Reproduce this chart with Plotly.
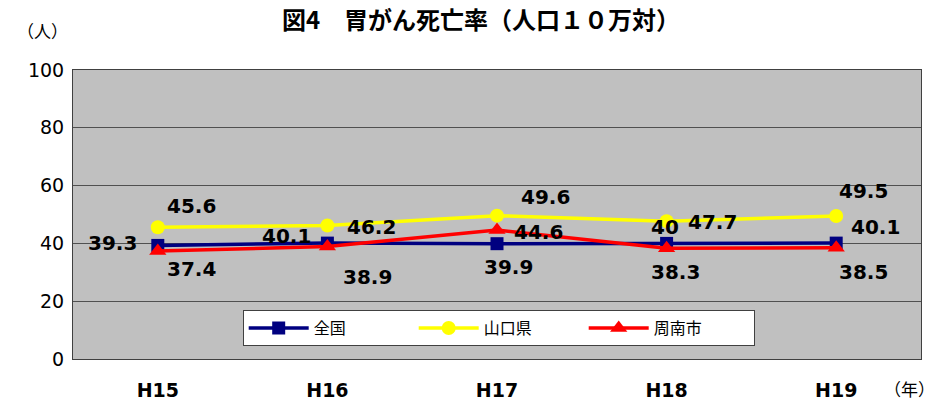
import plotly.graph_objects as go

years = ["H15", "H16", "H17", "H18", "H19"]
zenkoku = [39.3, 40.1, 39.9, 40.0, 40.1]
yamaguchi = [45.6, 46.2, 49.6, 47.7, 49.5]
shunan = [37.4, 38.9, 44.6, 38.3, 38.5]
zenkoku_txt = ["39.3", "40.1", "39.9", "40", "40.1"]
yamaguchi_txt = ["45.6", "46.2", "49.6", "47.7", "49.5"]
shunan_txt = ["37.4", "38.9", "44.6", "38.3", "38.5"]

# label offsets (px) relative to points
zen_off = [(-45, 2), (-41, 7), (11, -23), (-2, 16), (39, 16)]
yam_off = [(34, 21), (44, -2), (48, 19), (46, -1), (27, 25)]
shu_off = [(34, -18), (40, -30), (41, -2), (9, -24), (27, -24)]

JP = "Noto Sans CJK JP"
NUM = "DejaVu Sans"

W, H = 936, 401
L, T, PW, PH = 73, 70, 848, 289

fig = go.Figure()
fig.add_trace(go.Scatter(x=years, y=zenkoku, name="全国", mode="lines+markers",
                         line=dict(color="#000080", width=3.5),
                         marker=dict(symbol="square", size=13, color="#000080")))
fig.add_trace(go.Scatter(x=years, y=yamaguchi, name="山口県", mode="lines+markers",
                         line=dict(color="#FFFF00", width=3.5),
                         marker=dict(symbol="circle", size=14, color="#FFFF00")))
fig.add_trace(go.Scatter(x=years, y=shunan, name="周南市", mode="lines+markers",
                         line=dict(color="#FF0000", width=3.5),
                         marker=dict(symbol="triangle-up", size=15, color="#FF0000")))

ann = []
for vals, txts, offs in [(zenkoku, zenkoku_txt, zen_off),
                         (yamaguchi, yamaguchi_txt, yam_off),
                         (shunan, shunan_txt, shu_off)]:
    for x, v, t, (dx, dy) in zip(years, vals, txts, offs):
        ann.append(dict(x=x, y=v, text=t, showarrow=False, xshift=dx, yshift=dy,
                        font=dict(family=NUM, size=20, color="black", weight="bold")))

# page coords -> paper coords (plot area at page x 73..921, y 70..359)
ann.append(dict(x=(42 - L) / PW, y=(T + PH - 30) / PH, xref="paper", yref="paper",
                xanchor="center", yanchor="middle",
                text="（人）", showarrow=False,
                font=dict(family=JP, size=17, color="black")))
ann.append(dict(x=(909 - L) / PW, y=(T + PH - 388) / PH, xref="paper", yref="paper",
                xanchor="center", yanchor="middle",
                text="（年）", showarrow=False,
                font=dict(family=JP, size=17, color="black")))

fig.update_layout(
    width=W, height=H,
    margin=dict(l=L, r=W - L - PW, t=T, b=H - T - PH, autoexpand=False),
    paper_bgcolor="white", plot_bgcolor="#C0C0C0",
    title=dict(text="図4　胃がん死亡率（人口１０万対）", x=481 / W, xanchor="center",
               y=1 - 21 / H, yanchor="middle",
               font=dict(family=JP, size=24, color="black", weight="bold")),
    xaxis=dict(range=[-0.5, len(years) - 0.5], showgrid=False, showline=True,
               linecolor="#404040", linewidth=1, mirror=True,
               tickfont=dict(family=NUM, size=19, color="black", weight="bold"),
               ticks="", ticklabelstandoff=14, automargin=False),
    yaxis=dict(range=[0, 100], dtick=20, showgrid=True, gridcolor="#505050", gridwidth=1,
               showline=True, linecolor="#404040", linewidth=1, mirror=True, zeroline=False,
               tickfont=dict(family=NUM, size=19, color="black"), ticks="",
               ticklabelstandoff=4, automargin=False),
    legend=dict(orientation="h", x=0.502, xanchor="center", y=0.107, yanchor="middle",
                bgcolor="white", bordercolor="#404040", borderwidth=1,
                font=dict(family=JP, size=16, color="black"),
                entrywidth=95, entrywidthmode="pixels", itemwidth=60),
    annotations=ann,
    showlegend=True,
)

# remove the browser's default 8px body margin so the figure sits at (0, 0)
fig.write_html("out.html", config={"displayModeBar": False},
               post_script="document.body.style.margin='0';")
